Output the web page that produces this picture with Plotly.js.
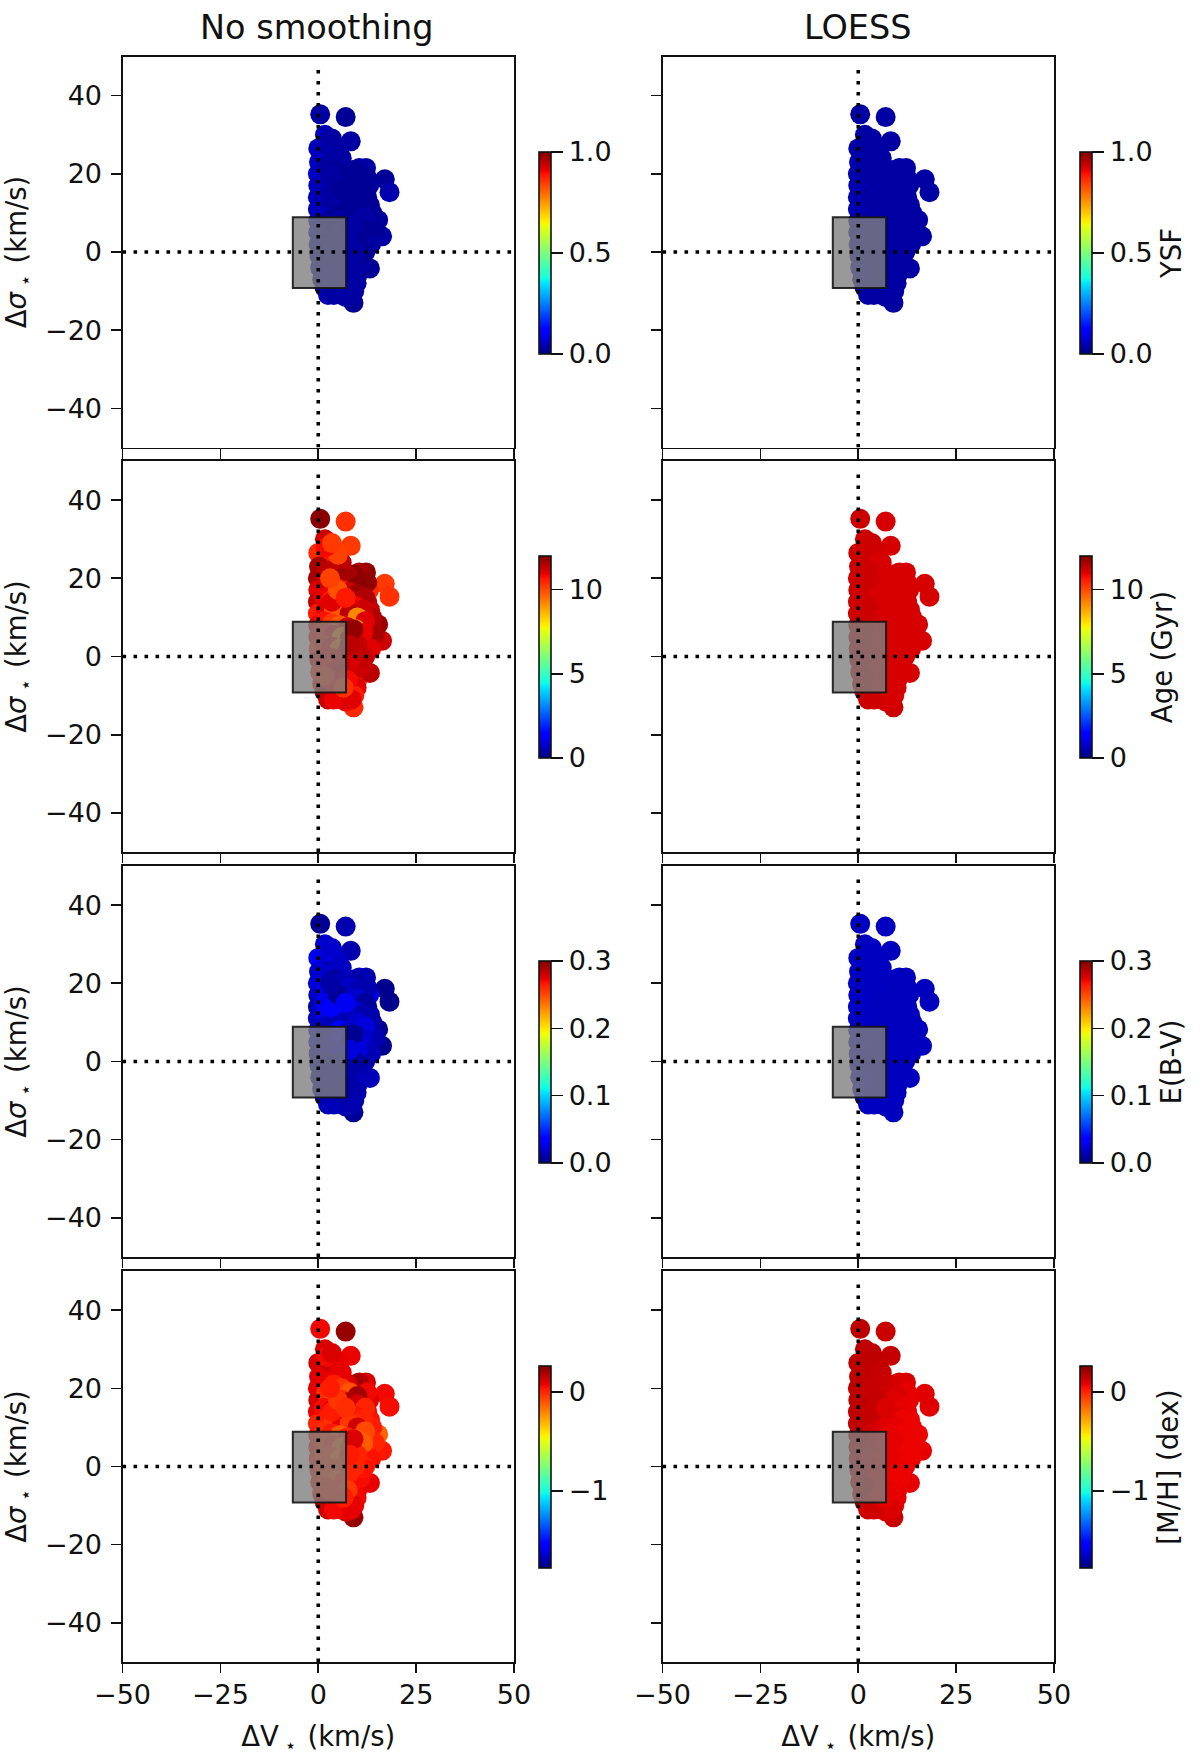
<!DOCTYPE html>
<html><head><meta charset="utf-8">
<script src="https://cdn.plot.ly/plotly-3.0.1.min.js"></script>
<style>html,body{margin:0;padding:0;background:#fff}</style></head>
<body><div id="chart" style="width:1200px;height:1761px"></div>
<script>
// Point positions
const dV = [0.5,7,1.7,8.3,0,4,3,0.2,5.5,12.2,10.5,9,17,18.2,-0.1,0,-0.1,-0.1,0,0,0.1,0.3,0.5,1,1.6,2.5,5,8.2,9,7,10,13.2,10,11,16.3,13,15.3,12,12.5,13,11,
13.2,13.8,14.5,13.5,12,11,10.8,9.8,9.2,7,6,4,11.5,12.5,7.5,6,5,2,3.5,8.5,
2,4,6,8,10,2,4,6,8,10,12,1.5,3.5,5.5,7.5,9.5,11.5,2,4,6,8,10,12,1.5,3.5,5.5,7.5,9.5,11.5,2,4,6,8,10,1.5,3.5,5.5,7.5,9.5,2,4,6,8,2.5,4.5,6.5,3,5.5,7.5,1.5,6.5,3.5,9,5,7,3,8];
const dS = [35.2,34.5,30,28.3,26.5,27.5,26,23,23.5,21.5,21.5,21,18.6,15.3,20,17,14,11,8,5,2,-1,-4,-7,-9,-11,-10.5,-9.5,-13,-8,-6,-4.2,-1,2,4,6,8.2,10.5,14,17,18,
12,10,6,2,0,-2,-3,-8,-10,-11.5,-11,-11,-0.5,19,21,24,26,28,29,-11,
22,21,20,19,18,19,18,17,16.5,16,15,15,14.5,14,13.5,13,12,12,11.5,11,11,10,9,9,8.5,8,7.5,7,6,6,5.5,5,4.5,3,3,2.5,2,1.5,0,0,-0.5,-1,-1.5,-3,-3.5,-4,-6,-6.5,-6,-5,-8,14,7,17,15,20,3];

// Colour values, one list per panel
const ysfRaw = [.03,.02,.05,.03,.05,.03,.02,.06,.02,.03,.03,.02,.02,.04,.06,.05,.05,.05,.06,.06,.05,.05,.04,.03,.03,.04,.03,.03,.02,.03,.03,.02,.03,.03,.03,.02,.03,.02,.02,.03,.02,
.02,.02,.02,.03,.02,.03,.03,.03,.03,.03,.03,.03,.02,.02,.02,.03,.03,.04,.03,.03,
.03,.02,.02,.02,.02,.05,.02,.02,.02,.02,.02,.04,.02,.03,.02,.02,.02,.04,.02,.02,.02,.02,.03,.05,.02,.03,.02,.02,.02,.03,.02,.03,.02,.02,.03,.03,.03,.03,.03,.04,.03,.03,.03,.04,.03,.03,.04,.04,.03,.04,.03,.03,.03,.02,.02,.03,.03];
const ageRaw = [11.9,10.3,11.2,10.2,10.4,10.0,10.7,11.6,11.2,11.8,11.6,11.9,10.2,10.3,11.6,11,11.3,10.6,10.9,10.7,10.3,10.9,10.4,10.6,11.4,11.2,11,10.5,10.4,10.2,10.3,11.4,11,11.6,11.2,11.8,11.7,9.9,11.3,10.4,10.8,
11.2,11.5,11.6,11,11.1,10.8,11.2,11,10.6,10.8,11.1,10.9,11.3,11.8,11.6,11.4,10.1,10.8,10.2,11,
11.4,11.3,11.7,11.6,11.9,11.2,10.8,10.6,11.2,11.7,11.5,10.9,10.5,10.2,11.2,10.9,11.2,11.0,9.9,9.8,11.4,9.2,11,10.7,10.2,9.8,11.2,8.6,10.9,10.6,10.9,9.2,11.1,11.3,10.6,10.9,9.4,10.8,11.3,10.9,10.8,10.8,11.1,10.7,10.9,11.2,10.8,10.9,10.8,10.4,10.3,11.0,11.8,9.9,10.6,10.1,11.4];
const ebvRaw = [.005,.012,.02,.012,.03,.018,.01,.02,.008,.012,.014,.01,.004,.003,.022,.018,.012,.015,.02,.02,.015,.014,.012,.015,.015,.014,.012,.01,.006,.014,.012,.015,.014,.012,.004,.004,.005,.025,.01,.028,.02,
.012,.01,.012,.014,.012,.014,.014,.012,.012,.012,.014,.014,.012,.012,.012,.016,.018,.024,.02,.012,
.02,.008,.014,.018,.012,.03,.006,.012,.018,.02,.007,.028,.022,.008,.012,.02,.012,.03,.02,.015,.014,.02,.024,.018,.014,.032,.018,.024,.02,.012,.022,.03,.014,.024,.018,.02,.028,.012,.008,.012,.01,.008,.01,.012,.01,.012,.012,.01,.01,.012,.01,.034,.005,.006,.03,.01,.024];
const mhRaw = [.06,.22,.1,.07,.11,.14,.16,.09,-.04,.1,.16,.2,.06,.05,.08,.11,.08,.0,.02,.04,.03,.0,.02,.03,.09,.12,.09,.07,.22,.0,.06,.08,.06,.0,.03,.1,-.14,-.12,.05,.09,.0,
.04,.02,.0,.04,.02,.06,.05,.06,.08,.1,.08,.06,.04,.06,.1,.08,.08,.06,.1,.08,
.08,.02,-.04,-.1,.2,-.02,-.12,.0,.18,.12,.0,.05,.09,-.05,.04,.03,.0,.02,-.05,.08,-.04,.12,-.08,-.02,.02,-.12,.0,-.14,-.12,-.05,.0,-.14,-.02,.0,-.02,-.02,-.14,-.06,.0,-.02,-.04,-.04,.0,-.02,-.1,.0,.0,.0,-.04,.0,.02,.02,.1,-.04,-.02,.02,.02];
const ysfLoess = [.03,.03,.03,.03,.03,.03,.03,.04,.03,.03,.03,.03,.03,.03,.04,.04,.04,.04,.04,.04,.04,.04,.04,.03,.03,.03,.03,.03,.03,.03,.03,.03,.03,.03,.03,.03,.03,.03,.03,.03,.03,
.03,.03,.03,.03,.03,.03,.03,.03,.03,.03,.03,.03,.03,.03,.03,.03,.03,.03,.03,.03,
.03,.03,.03,.03,.03,.04,.03,.03,.03,.03,.03,.04,.03,.03,.03,.03,.03,.04,.03,.03,.03,.03,.03,.04,.03,.03,.03,.03,.03,.04,.03,.03,.03,.03,.04,.03,.03,.03,.03,.04,.03,.03,.03,.03,.03,.03,.03,.03,.03,.04,.03,.03,.03,.03,.03,.03,.03];
const ageLoess = [11.2,11.1,11.2,11.1,11.2,11.2,11.2,11.2,11.2,11.1,11.1,11.1,11.1,11.1,11.2,11.2,11.2,11.2,11.2,11.2,11.2,11.2,11.2,11.2,11.2,11.2,11.1,11.1,11.2,11.2,11.1,11.1,11.1,11.1,11.1,11.1,11.1,11.1,11.1,11.1,11.1,
11.1,11.1,11.1,11.1,11.1,11.1,11.1,11.1,11.1,11.1,11.1,11.2,11.1,11.1,11.1,11.1,11.1,11.2,11.2,11.1,
11.2,11.2,11.1,11.1,11.1,11.2,11.2,11.1,11.1,11.1,11.1,11.2,11.2,11.1,11.1,11.1,11.1,11.2,11.2,11.1,11.1,11.1,11.1,11.2,11.2,11.1,11.1,11.1,11.1,11.2,11.2,11.1,11.1,11.1,11.2,11.2,11.1,11.1,11.1,11.2,11.2,11.1,11.1,11.2,11.1,11.1,11.2,11.1,11.1,11.2,11.1,11.2,11.1,11.1,11.1,11.2,11.1];
const ebvLoess = [.017,.016,.017,.016,.017,.017,.017,.018,.017,.016,.016,.016,.016,.016,.018,.018,.018,.018,.018,.018,.018,.018,.018,.018,.017,.017,.017,.016,.016,.017,.016,.016,.016,.016,.016,.016,.016,.016,.016,.016,.016,
.016,.016,.016,.016,.016,.016,.016,.016,.016,.017,.017,.017,.016,.016,.016,.017,.017,.017,.017,.016,
.017,.017,.017,.016,.016,.017,.017,.017,.016,.016,.016,.018,.017,.017,.016,.016,.016,.017,.017,.017,.016,.016,.016,.018,.017,.017,.016,.016,.016,.017,.017,.017,.016,.016,.018,.017,.017,.016,.016,.017,.017,.017,.016,.017,.017,.016,.017,.017,.016,.018,.016,.017,.016,.017,.016,.017,.016];
const mhLoess = [.15,.13,.15,.14,.15,.15,.15,.15,.14,.1,.1,.11,.09,.09,.15,.15,.15,.15,.14,.13,.12,.11,.11,.11,.12,.12,.1,.08,.13,.08,.07,.08,.07,.07,.08,.07,.07,.07,.08,.08,.08,
.07,.07,.07,.07,.07,.07,.07,.08,.08,.1,.1,.12,.07,.08,.11,.13,.14,.15,.15,.1,
.15,.14,.13,.12,.1,.15,.14,.12,.1,.09,.08,.15,.14,.12,.1,.09,.07,.15,.13,.11,.09,.08,.07,.14,.12,.09,.08,.07,.07,.13,.11,.08,.07,.07,.13,.11,.08,.07,.07,.12,.1,.08,.07,.12,.08,.07,.1,.08,.08,.14,.08,.14,.08,.14,.1,.14,.08];

// Labels and scales
const columnTitles = ["No smoothing","LOESS"];
const rowLabels = ["YSF","Age (Gyr)","E(B-V)","[M/H] (dex)"];
const rawValues = [ysfRaw,ageRaw,ebvRaw,mhRaw];
const loessValues = [ysfLoess,ageLoess,ebvLoess,mhLoess];
const colourMin = [0,0,0,-1.78];
const colourMax = [1,12,0.3,0.26];
const colourTicks = [[0,0.5,1],[0,5,10],[0,0.1,0.2,0.3],[-1,0]];
const colourTickText = [["0.0","0.5","1.0"],["0","5","10"],["0.0","0.1","0.2","0.3"],["\u22121","0"]];
const xTicks = [-50,-25,0,25,50];
const yTicks = [-40,-20,0,20,40];
const axisRange = [-50,50];
const boxV = [-6.5,7.1];
const boxS = [-9.2,8.9];
const guide = [0];
const guideTop = [48];

const jet = [[0,"rgb(0,0,128)"],[0.11,"rgb(0,0,255)"],[0.125,"rgb(0,0,255)"],[0.34,"rgb(0,219,255)"],[0.35,"rgb(0,229,255)"],[0.375,"rgb(20,255,226)"],[0.64,"rgb(238,255,8)"],[0.65,"rgb(247,245,0)"],[0.66,"rgb(255,236,0)"],[0.89,"rgb(255,19,0)"],[0.91,"rgb(232,0,0)"],[1,"rgb(128,0,0)"]];

const W=1200,H=1761,FONT="DejaVu Sans",TICK=27,LABEL=27.5,HEAD=33.5;
const colLeft=[122.5,662.5], panelW=391.5;
const rowTop=[56.5,461,866,1271], panelH=391;
const barLeft=[539,1080], barTop=[152,556,961,1366], barH=202;
const headShift=[-2,0];

const traces=[],shapes=[],layout={
  width:W,height:H,margin:{l:0,r:0,t:0,b:0},paper_bgcolor:"#fff",plot_bgcolor:"#fff",
  font:{family:FONT,size:TICK,color:"#111"},showlegend:false,annotations:[],shapes
};
const dotted="3.6px,7.4px";
for(let c=0;c<2;c++){
  for(let r=0;r<4;r++){
    const n=r*2+c+1, xa=n===1?"xaxis":"xaxis"+n, ya=n===1?"yaxis":"yaxis"+n;
    const xr=n===1?"x":"x"+n, yr=n===1?"y":"y"+n;
    layout[xa]={domain:[colLeft[c]/W,(colLeft[c]+panelW)/W],range:axisRange,anchor:yr,tickvals:xTicks,
      ticks:"outside",ticklen:9.5,tickwidth:1.6,tickcolor:"#111",showline:true,linecolor:"#111",linewidth:1.6,mirror:true,ticklabelstandoff:-2,
      showgrid:false,zeroline:false,showticklabels:r===3,tickfont:{family:FONT,size:TICK,color:"#111"}};
    if(r===3) layout[xa].title={text:"\u0394V\u2009<sub>\u22c6</sub>\u2009\u2009(km/s)",font:{family:FONT,size:LABEL,color:"#111"},standoff:18};
    layout[ya]={domain:[1-(rowTop[r]+panelH)/H,1-rowTop[r]/H],range:axisRange,anchor:xr,tickvals:yTicks,
      ticks:"outside",ticklen:9.5,tickwidth:1.6,tickcolor:"#111",showline:true,linecolor:"#111",linewidth:1.6,mirror:true,ticklabelstandoff:4,
      showgrid:false,zeroline:false,showticklabels:c===0,tickfont:{family:FONT,size:TICK,color:"#111"}};
    if(c===0) layout[ya].title={text:"\u0394<i>\u03c3</i>\u2009<sub>\u22c6</sub>\u2009\u2009(km/s)",font:{family:FONT,size:LABEL,color:"#111"},standoff:14};
    const vals=(c===0?rawValues:loessValues)[r];
    const bar={x:(barLeft[c])/W,xanchor:"left",xpad:0,ypad:0,thickness:12,thicknessmode:"pixels",
          len:barH,lenmode:"pixels",y:1-(barTop[r]+barH/2)/H,yanchor:"middle",
          outlinewidth:1.6,outlinecolor:"#111",ticks:"outside",ticklen:12,tickwidth:1.6,tickcolor:"#111",
          tickvals:colourTicks[r],ticktext:colourTickText[r],tickfont:{family:FONT,size:TICK,color:"#111"}};
    if(c===1) bar.title={text:rowLabels[r],side:"right",font:{family:FONT,size:LABEL,color:"#111"}};
    traces.push({type:"scatter",mode:"markers",x:dV,y:dS,xaxis:xr,yaxis:yr,hoverinfo:"skip",
      marker:{size:20,color:vals,colorscale:jet,cmin:colourMin[r],cmax:colourMax[r],line:{width:0},opacity:1,colorbar:bar}});
    shapes.push({type:"rect",xref:xr,yref:yr,x0:boxV[0],x1:boxV[1],y0:boxS[0],y1:boxS[1],
      fillcolor:"rgba(128,128,128,0.8)",line:{color:"rgba(20,20,20,0.9)",width:2},layer:"above"});
    shapes.push({type:"line",xref:xr,yref:yr,x0:axisRange[0],x1:axisRange[1],y0:guide[0],y1:guide[0],line:{color:"#000",width:3.6,dash:dotted},layer:"above"});
    shapes.push({type:"line",xref:xr,yref:yr,x0:guide[0],x1:guide[0],y0:axisRange[0],y1:guideTop[0],line:{color:"#000",width:3.6,dash:dotted},layer:"above"});
  }
  layout.annotations.push({xref:"paper",yref:"paper",x:(colLeft[c]+panelW/2+headShift[c])/W,y:1-27/H,xanchor:"center",yanchor:"middle",showarrow:false,
    text:columnTitles[c],font:{family:FONT,size:HEAD,color:"#111"}});
}
Plotly.newPlot("chart",traces,layout,{staticPlot:true,displayModeBar:false});
</script></body></html>
